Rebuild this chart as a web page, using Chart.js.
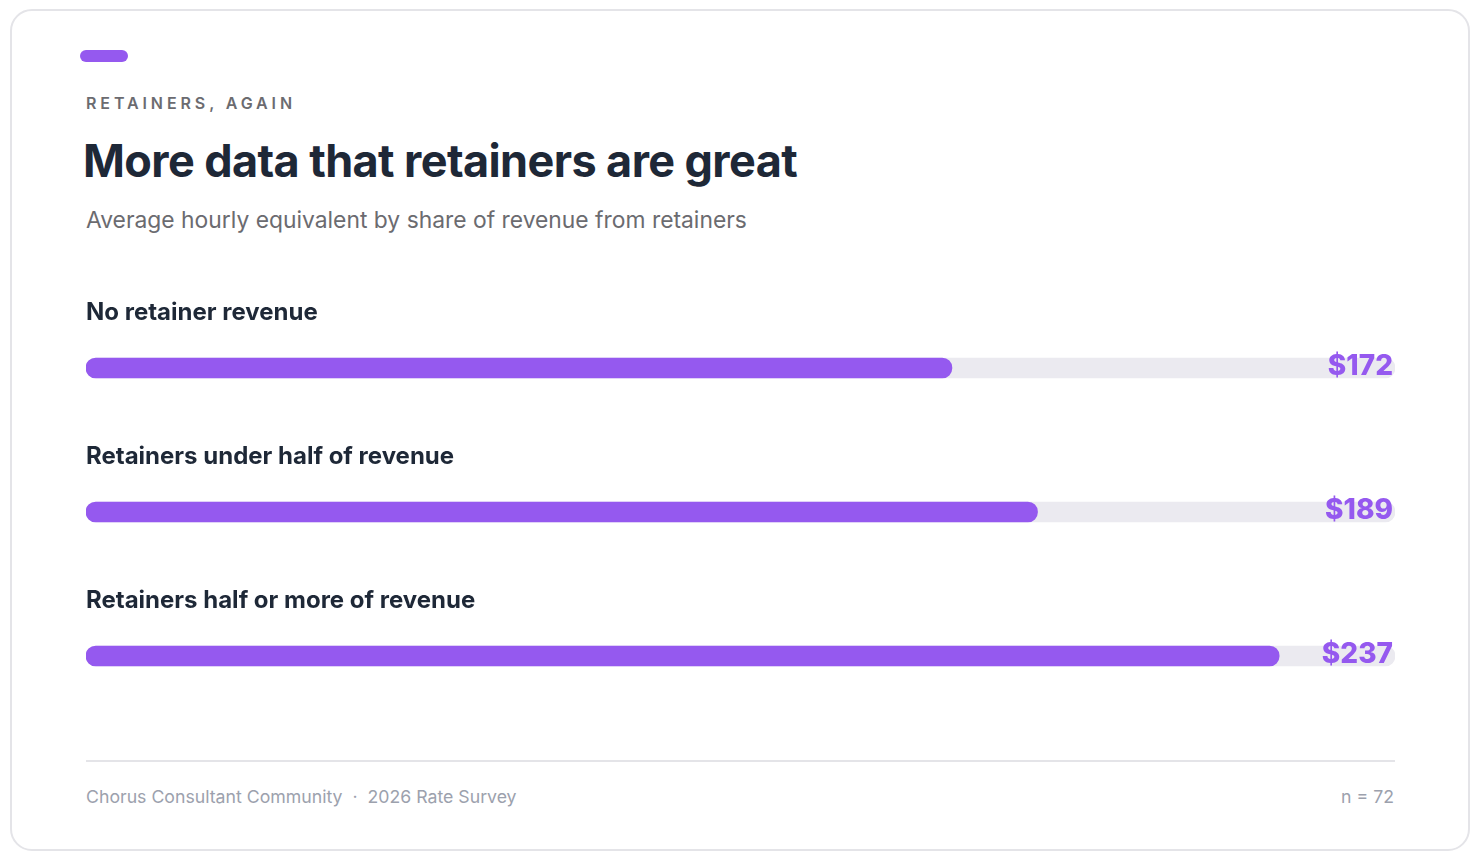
<!DOCTYPE html>
<html>
<head>
<meta charset="utf-8">
<script src="https://cdn.jsdelivr.net/npm/chart.js@4.4.1/dist/chart.umd.min.js"></script>
<style>
  html, body { margin: 0; padding: 0; background: #ffffff; }
  body { width: 1480px; height: 860px; position: relative; font-family: Inter, "Noto Sans", sans-serif; overflow: hidden; }
  .card { position: absolute; left: 10px; top: 9px; width: 1456px; height: 838px; border: 2px solid #e4e4e8; border-radius: 22px; background: #fff; }
  .accent { position: absolute; left: 80px; top: 50px; width: 48px; height: 12px; border-radius: 6px; background: #9559ef; }
  .eyebrow { position: absolute; left: 86px; top: 95px; font-size: 16px; line-height: 16px; font-weight: 600; letter-spacing: 3.9px; color: #6b6b70; white-space: nowrap; }
  .title { position: absolute; left: 83px; top: 138px; font-size: 45px; line-height: 45px; font-weight: 700; letter-spacing: -0.6px; color: #1e2837; white-space: nowrap; }
  .subtitle { position: absolute; left: 86px; top: 209px; font-size: 22.85px; line-height: 23px; font-weight: 400; color: #6b6b70; white-space: nowrap; }
  .chart-box { position: absolute; left: 86px; top: 296px; width: 1309px; height: 432px; }
  .rule { position: absolute; left: 86px; top: 760px; width: 1309px; height: 2px; background: #e4e4e8; }
  .foot { position: absolute; top: 788px; font-size: 17.7px; line-height: 18px; color: #9ca1ad; white-space: nowrap; }
  .foot.left { left: 86px; }
  .foot.right { right: 86px; }
</style>
</head>
<body>
<div class="card"></div>
<div class="accent"></div>
<div class="eyebrow">RETAINERS, AGAIN</div>
<div class="title">More data that retainers are great</div>
<div class="subtitle">Average hourly equivalent by share of revenue from retainers</div>
<div class="chart-box"><canvas id="chart"></canvas></div>
<div class="rule"></div>
<div class="foot left">Chorus Consultant Community &nbsp;·&nbsp; 2026 Rate Survey</div>
<div class="foot right">n = 72</div>
<script>
// data
var categories = ["No retainer revenue", "Retainers under half of revenue", "Retainers half or more of revenue"];
var hourlyRates = [172, 189, 237];
var axisMax = 260;
var trackValues = categories.map(function () { return axisMax; });

var purple = "#9559ef";
var track = "#ebeaf0";

// category names above each bar, dollar value at the right end
var labelsPlugin = {
    id: "rowLabels",
    afterDatasetsDraw: function (chart) {
        var ctx = chart.ctx;
        var meta = chart.getDatasetMeta(0);
        var area = chart.chartArea;
        ctx.save();
        meta.data.forEach(function (bar, i) {
            ctx.font = "700 24px Inter";
            ctx.fillStyle = "#1e2837";
            ctx.textAlign = "left";
            ctx.textBaseline = "alphabetic";
            ctx.fillText(categories[i], area.left, bar.y - 48);

            ctx.font = "800 28px Inter";
            ctx.fillStyle = purple;
            ctx.textAlign = "right";
            ctx.fillText("$" + hourlyRates[i], area.right - 2, bar.y + 7);
        });
        ctx.restore();
    }
};

var ctx = document.getElementById("chart");
var chart = new Chart(ctx, {
    type: "bar",
    data: {
        labels: categories,
        datasets: [{
            data: hourlyRates,
            backgroundColor: purple,
            borderRadius: 10,
            borderSkipped: false,
            barThickness: 20,
            grouped: false,
            order: 0
        }, {
            data: trackValues,
            backgroundColor: track,
            borderRadius: 10,
            borderSkipped: false,
            barThickness: 20,
            grouped: false,
            order: 1
        }]
    },
    options: {
        indexAxis: "y",
        responsive: true,
        maintainAspectRatio: false,
        animation: false,
        layout: { padding: 0 },
        scales: {
            x: { display: false, min: 0, max: axisMax },
            y: { display: false }
        },
        plugins: {
            legend: { display: false },
            tooltip: { enabled: false }
        }
    },
    plugins: [labelsPlugin]
});
</script>
</body>
</html>
